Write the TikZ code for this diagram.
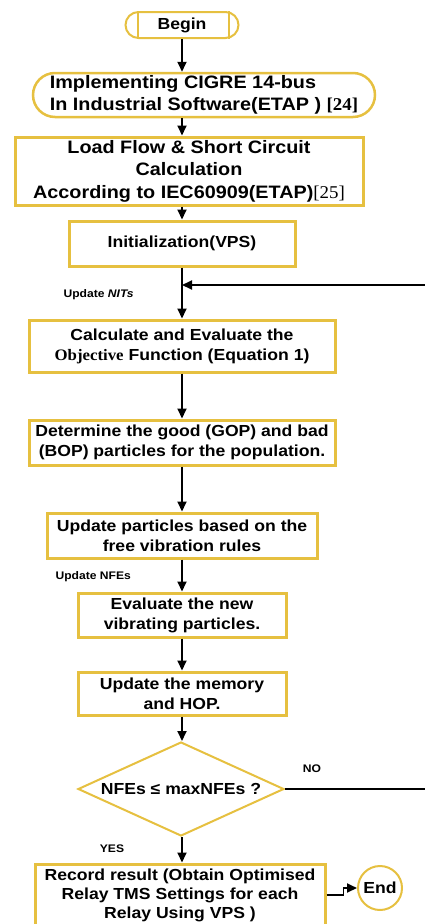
\documentclass[tikz,border=0pt]{standalone}
\usepackage{fontspec}
\setmainfont{Liberation Sans}[FakeStretch=1.1]
\newfontfamily\refserif{Liberation Serif}[FakeStretch=1.05]
\usepackage{tikz}
\usetikzlibrary{shapes.geometric, arrows.meta, positioning}
\definecolor{boxgold}{RGB}{230,192,64}

\begin{document}
\begin{tikzpicture}[x=1pt, y=-1pt,
    goldbox/.style={draw=boxgold, line width=3pt, fill=white, inner sep=2pt, align=center,
                    font=\bfseries\fontsize{16}{20}\selectfont},
    bigtext/.style={font=\bfseries\fontsize{18}{22.5}\selectfont},
    flowline/.style={line width=1.8pt, -{Stealth[length=10pt,width=9pt,inset=0pt]}},
    smalllabel/.style={font=\bfseries\fontsize{11}{13}\selectfont}]
    \useasboundingbox (0,0) rectangle (425,924);

    % terminals and process boxes
    \node[goldbox, line width=2pt, rounded corners=13pt, minimum width=113pt, minimum height=26pt] (begin) at (182,25) {Begin};
    \draw[boxgold, line width=2pt] ([xshift=13pt]begin.north west) -- ([xshift=13pt]begin.south west)
        ([xshift=-11pt]begin.north east) -- ([xshift=-11pt]begin.south east);

    \node[goldbox, bigtext, line width=2.5pt, rounded corners=22pt, align=left, minimum width=342pt, minimum height=44pt] (impl) at (204,95)
        {Implementing CIGRE 14-bus\\In Industrial Software(ETAP ) {\refserif[24]}};
    \node[goldbox, bigtext, minimum width=348pt, minimum height=68pt] (load) at (189,171)
        {Load Flow \& Short Circuit\\Calculation\\According to IEC60909(ETAP){\refserif\mdseries[25]}};
    \node[goldbox, minimum width=226pt, minimum height=45pt] (init) at (182,243.5) {Initialization(VPS)};
    \node[goldbox, minimum width=306pt, minimum height=52pt] (calc) at (182,346)
        {Calculate and Evaluate the\\{\refserif Objective} Function (Equation 1)};
    \node[goldbox, minimum width=306pt, minimum height=45pt] (gop) at (182,442.5)
        {Determine the good (GOP) and bad\\(BOP) particles for the population.};
    \node[goldbox, minimum width=270pt, minimum height=45pt] (vib) at (182,535.5)
        {Update particles based on the\\free vibration rules};
    \node[goldbox, minimum width=208pt, minimum height=44pt] (eval) at (182,615)
        {Evaluate the new\\vibrating particles.};
    \node[goldbox, minimum width=208pt, minimum height=43pt] (mem) at (182,693.5)
        {Update the memory\\and HOP.};
    \node[goldbox, diamond, aspect=2.15, line width=2pt, inner sep=0pt, minimum width=206pt, minimum height=94pt] (check) at (181,789)
        {NFEs ≤ maxNFEs ?};
    \node[goldbox, minimum width=290pt, minimum height=62pt, font=\bfseries\fontsize{16}{19}\selectfont] (record) at (180,895)
        {Record result (Obtain Optimised\\Relay TMS Settings for each\\Relay Using VPS )};
    \node[goldbox, circle, line width=2pt, inner sep=0pt, minimum size=44pt] (end) at (380,888) {End};

    % labels
    \node[smalllabel, anchor=west] (nits) at (60,295) {Update \textit{NITs}};
    \node[smalllabel, anchor=west] (nfes) at (52,577) {Update NFEs};
    \node[smalllabel] (no) at (312,769) {NO};
    \node[smalllabel] (yes) at (112,849) {YES};

    % connectors
    \foreach \a/\b in {begin/impl, impl/load, load/init, init/calc, calc/gop, gop/vib, vib/eval, eval/mem, mem/check, check/record}
        \draw[flowline] (\a.south -| begin) -- (\b.north -| begin);

    \coordinate (merge) at (182,285);
    \coordinate (loopR) at (445,285);
    \coordinate (noR) at (445,789);
    \draw[flowline] (check.east) -- (noR) -- (loopR) -- (merge);
    \draw[flowline] (record.east) -- ++(17,0) |- (end.west);
\end{tikzpicture}
\end{document}
